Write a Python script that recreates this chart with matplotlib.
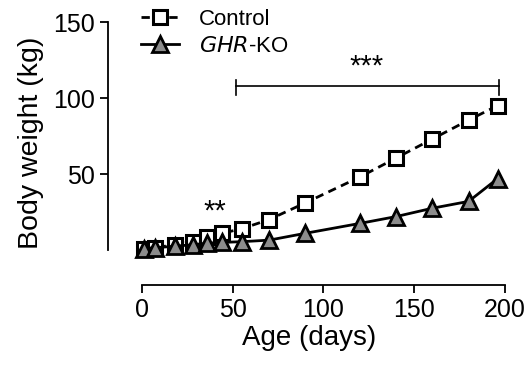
import matplotlib
matplotlib.use("Agg")
import matplotlib.pyplot as plt

plt.rcParams['font.family'] = ['Liberation Sans', 'DejaVu Sans']

days = [1, 7, 18, 28, 36, 44, 55, 70, 90, 120, 140, 160, 180, 196]
control = [1.0, 1.5, 3.5, 5.5, 8.5, 11, 14, 20, 31, 48, 60.5, 73, 85.5, 95]
ghrko = [1.0, 1.5, 2.5, 3.5, 4.5, 5, 5.5, 6.5, 11, 17.5, 22, 27.5, 32, 47]
xticks = [0, 50, 100, 150, 200]
yticks = [50, 100, 150]

fig = plt.figure(figsize=(5.31, 3.69), dpi=100)
ax = fig.add_axes([108/531, 1-285/369, (510-108)/531, (285-22)/369])

ax.plot(days, control, color='black', lw=2.0, ls=(0, (3, 2)), marker='s', ms=10,
        mfc='white', mec='black', mew=2.2, clip_on=False, zorder=3, label='Control')
ax.plot(days, ghrko, color='black', lw=2.0, ls='-', marker='^', ms=11,
        mfc='#8c8c8c', mec='black', mew=2.0, clip_on=False, zorder=4,
        label='$\\it{GHR}$-KO')

ax.set_xlim(-18.7, 202.8)
ax.set_ylim(-23, 150)
ax.spines['top'].set_visible(False)
ax.spines['right'].set_visible(False)
ax.spines['left'].set_bounds(0, 150)
ax.spines['bottom'].set_bounds(0, 200)
for s in ('left', 'bottom'):
    ax.spines[s].set_linewidth(1.3)
ax.set_xticks(xticks)
ax.set_yticks(yticks)
ax.tick_params(axis='both', labelsize=18, width=1.3, length=6, direction='out')
ax.set_xlabel('Age (days)', fontsize=20, labelpad=2)
ax.set_ylabel('Body weight (kg)', fontsize=20.5)
ax.yaxis.set_label_coords(-0.16, 0.54)

# significance bracket
ax.plot([52, 197], [108, 108], color='black', lw=1.2, clip_on=False)
ax.plot([52, 52], [102, 112], color='black', lw=1.2, clip_on=False)
ax.plot([197, 197], [102, 112], color='black', lw=1.2, clip_on=False)
ax.text(124, 121, '***', ha='center', va='center', fontsize=21)
ax.text(40, 25.5, '**', ha='center', va='center', fontsize=21)

leg = ax.legend(loc='upper left', bbox_to_anchor=(0.06, 1.085), frameon=False,
                fontsize=16, handlelength=1.7, handletextpad=0.9,
                labelspacing=0.3, borderaxespad=0)

fig.savefig('out.png', dpi=100)
